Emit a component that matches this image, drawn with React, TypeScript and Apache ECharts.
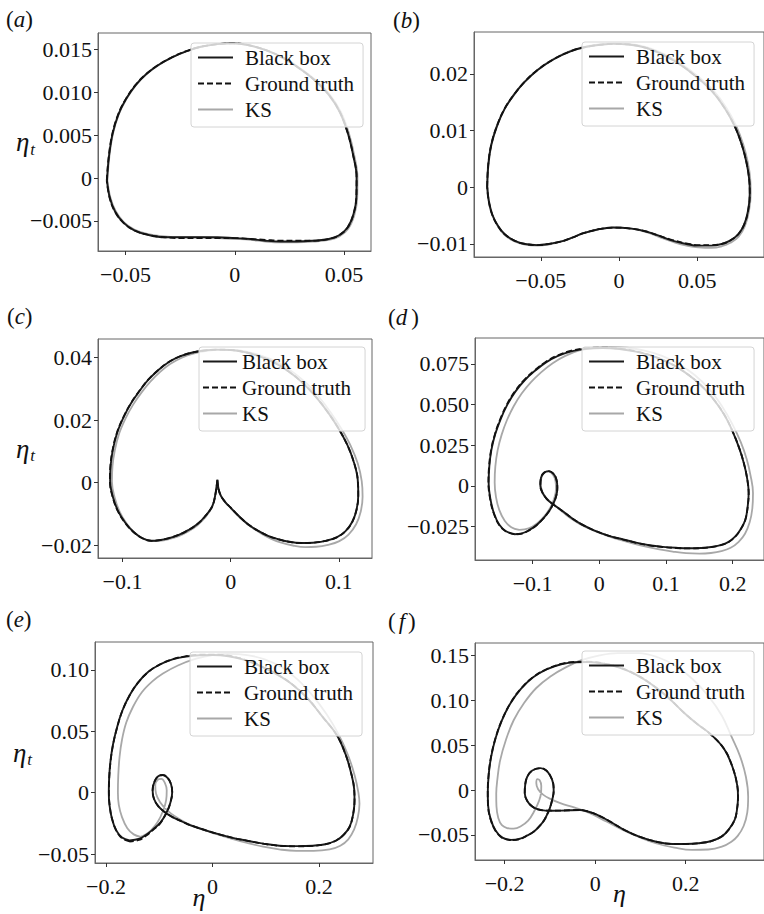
import React, { useEffect, useRef } from "react";
import * as echarts from "echarts";

type Pt = [number, number];

const SERIES_NAMES = ["Black box", "Ground truth", "KS"];
const PANEL_LETTERS = ["a", "b", "c", "d", "e", "f"];

// ---------- tick values and labels ----------
const aXTicks = [-0.05, 0, 0.05];
const aXLabels = ["−0.05", "0", "0.05"];
const aYTicks = [-0.005, 0, 0.005, 0.01, 0.015];
const aYLabels = ["−0.005", "0", "0.005", "0.010", "0.015"];
const bXTicks = [-0.05, 0, 0.05];
const bXLabels = ["−0.05", "0", "0.05"];
const bYTicks = [-0.01, 0, 0.01, 0.02];
const bYLabels = ["−0.01", "0", "0.01", "0.02"];
const cXTicks = [-0.1, 0, 0.1];
const cXLabels = ["−0.1", "0", "0.1"];
const cYTicks = [-0.02, 0, 0.02, 0.04];
const cYLabels = ["−0.02", "0", "0.02", "0.04"];
const dXTicks = [-0.1, 0, 0.1, 0.2];
const dXLabels = ["−0.1", "0", "0.1", "0.2"];
const dYTicks = [-0.025, 0, 0.025, 0.05, 0.075];
const dYLabels = ["−0.025", "0", "0.025", "0.050", "0.075"];
const eXTicks = [-0.2, 0, 0.2];
const eXLabels = ["−0.2", "0", "0.2"];
const eYTicks = [-0.05, 0, 0.05, 0.1];
const eYLabels = ["−0.05", "0", "0.05", "0.10"];
const fXTicks = [-0.2, 0, 0.2];
const fXLabels = ["−0.2", "0", "0.2"];
const fYTicks = [-0.05, 0, 0.05, 0.1, 0.15];
const fYLabels = ["−0.05", "0", "0.05", "0.10", "0.15"];

// ---------- axis ranges ----------
const aXRange = [-0.0626, 0.0623];
const aYRange = [-0.0085, 0.0169];
const bXRange = [-0.0927, 0.0927];
const bYRange = [-0.0123, 0.0274];
const cXRange = [-0.1227, 0.1307];
const cYRange = [-0.0241, 0.046];
const dXRange = [-0.1865, 0.247];
const dYRange = [-0.0457, 0.091];
const eXRange = [-0.2207, 0.3014];
const eYRange = [-0.0573, 0.1226];
const fXRange = [-0.2654, 0.373];
const fYRange = [-0.0779, 0.1642];

// ---------- panel (a) ----------
const aBlackBox: Pt[] = [
  [-0.0585, -0.0003], [-0.0576, 0.0025], [-0.0559, 0.0052], [-0.0533, 0.0074], [-0.0498, 0.0092],
  [-0.0455, 0.0108], [-0.0406, 0.0121], [-0.0348, 0.0132], [-0.0285, 0.0141], [-0.022, 0.0148],
  [-0.0155, 0.0153], [-0.008, 0.0156], [-0.001, 0.0157], [0.006, 0.0155], [0.0142, 0.0149],
  [0.022, 0.014], [0.0294, 0.0128], [0.0365, 0.0114], [0.043, 0.0097], [0.048, 0.0077],
  [0.0516, 0.0053], [0.0541, 0.0027], [0.0557, 0.0001], [0.0556, -0.0022], [0.0543, -0.0042],
  [0.0515, -0.0058], [0.0475, -0.0067], [0.043, -0.0071], [0.036, -0.0073], [0.028, -0.0074],
  [0.021, -0.0074], [0.014, -0.0073], [0.007, -0.0071], [0.0, -0.007], [-0.008, -0.0069],
  [-0.016, -0.0069], [-0.024, -0.0069], [-0.032, -0.0069], [-0.04, -0.0066], [-0.046, -0.0061],
  [-0.051, -0.0052], [-0.0548, -0.0039], [-0.0572, -0.0023], [-0.0585, -0.0003],
];
const aGroundTruth: Pt[] = [
  [-0.0586, -0.0003], [-0.0577, 0.0025], [-0.056, 0.0052], [-0.0534, 0.0074], [-0.0499, 0.0092],
  [-0.0456, 0.0108], [-0.0407, 0.0121], [-0.0349, 0.0132], [-0.0286, 0.0141], [-0.0221, 0.0148],
  [-0.0155, 0.0153], [-0.008, 0.0156], [-0.001, 0.0157], [0.006, 0.0155], [0.0142, 0.0149],
  [0.022, 0.014], [0.0294, 0.0128], [0.0365, 0.0114], [0.043, 0.0097], [0.048, 0.0077],
  [0.0516, 0.0053], [0.0541, 0.0027], [0.0557, 0.0001], [0.0556, -0.0022], [0.0543, -0.0042],
  [0.0515, -0.0058], [0.0475, -0.0067], [0.043, -0.0071], [0.036, -0.0073], [0.028, -0.0073],
  [0.021, -0.0073], [0.014, -0.0072], [0.007, -0.0071], [0.0, -0.007], [-0.008, -0.007],
  [-0.016, -0.007], [-0.024, -0.007], [-0.032, -0.0069], [-0.04, -0.0066], [-0.046, -0.0061],
  [-0.051, -0.0052], [-0.0549, -0.0039], [-0.0573, -0.0023], [-0.0586, -0.0003],
];
const aKS: Pt[] = [
  [-0.0583, -0.0003], [-0.0574, 0.0025], [-0.0557, 0.0052], [-0.0531, 0.0074], [-0.0496, 0.0092],
  [-0.0453, 0.0108], [-0.0404, 0.0121], [-0.0346, 0.0132], [-0.0283, 0.0141], [-0.0218, 0.0148],
  [-0.0153, 0.0153], [-0.0078, 0.0156], [-0.0008, 0.0157], [0.0062, 0.0155], [0.0145, 0.0149],
  [0.0224, 0.014], [0.0298, 0.0128], [0.037, 0.0114], [0.0435, 0.0097], [0.0485, 0.0077],
  [0.0521, 0.0053], [0.0546, 0.0027], [0.0561, 0.0001], [0.056, -0.0023], [0.0547, -0.0043],
  [0.0519, -0.0059], [0.0478, -0.0068], [0.0432, -0.0072], [0.0362, -0.0074], [0.0282, -0.0075],
  [0.0211, -0.0075], [0.0141, -0.0074], [0.007, -0.0072], [0.0, -0.0071], [-0.008, -0.007],
  [-0.016, -0.0069], [-0.024, -0.0069], [-0.032, -0.0068], [-0.04, -0.0065], [-0.046, -0.006],
  [-0.0509, -0.0051], [-0.0546, -0.0038], [-0.057, -0.0022], [-0.0583, -0.0003],
];

// ---------- panel (b) ----------
const bBlackBox: Pt[] = [
  [-0.0842, 0.0001], [-0.0835, 0.004], [-0.0816, 0.0075], [-0.078, 0.0108], [-0.0732, 0.0138],
  [-0.0672, 0.0163], [-0.0606, 0.0185], [-0.052, 0.0207], [-0.0417, 0.0226], [-0.031, 0.024],
  [-0.0206, 0.0248], [-0.01, 0.0252], [-0.0038, 0.0253], [0.006, 0.0252], [0.0173, 0.0246],
  [0.028, 0.0234], [0.0383, 0.0218], [0.049, 0.0196], [0.0593, 0.017], [0.0675, 0.014],
  [0.0741, 0.0107], [0.0785, 0.0075], [0.0814, 0.0045], [0.0832, 0.0015], [0.0836, -0.001],
  [0.0826, -0.004], [0.08, -0.0066], [0.0762, -0.0083], [0.071, -0.0094], [0.0657, -0.01],
  [0.059, -0.0103], [0.0509, -0.0103], [0.043, -0.01], [0.0341, -0.0094], [0.025, -0.0085],
  [0.0173, -0.0078], [0.008, -0.0073], [-0.0038, -0.0071], [-0.013, -0.0074], [-0.0227, -0.0081],
  [-0.03, -0.0089], [-0.0374, -0.0096], [-0.045, -0.01], [-0.0521, -0.0102], [-0.06, -0.01],
  [-0.0669, -0.0094], [-0.073, -0.0083], [-0.0774, -0.0068], [-0.081, -0.0048], [-0.0832, -0.0024],
  [-0.0842, 0.0001],
];
const bGroundTruth: Pt[] = [
  [-0.0843, 0.0001], [-0.0836, 0.004], [-0.0817, 0.0075], [-0.0781, 0.0108], [-0.0733, 0.0138],
  [-0.0673, 0.0163], [-0.0607, 0.0185], [-0.0521, 0.0207], [-0.0418, 0.0226], [-0.031, 0.024],
  [-0.0206, 0.0248], [-0.01, 0.0252], [-0.0038, 0.0253], [0.006, 0.0252], [0.0173, 0.0246],
  [0.028, 0.0234], [0.0383, 0.0218], [0.049, 0.0196], [0.0593, 0.017], [0.0675, 0.014],
  [0.0741, 0.0107], [0.0785, 0.0075], [0.0814, 0.0045], [0.0832, 0.0015], [0.0836, -0.001],
  [0.0826, -0.004], [0.08, -0.0066], [0.0762, -0.0083], [0.071, -0.0094], [0.0657, -0.01],
  [0.059, -0.0102], [0.0509, -0.0102], [0.043, -0.0099], [0.0341, -0.0093], [0.025, -0.0085],
  [0.0173, -0.0078], [0.008, -0.0073], [-0.0038, -0.0071], [-0.013, -0.0074], [-0.0227, -0.0081],
  [-0.03, -0.0089], [-0.0374, -0.0096], [-0.045, -0.01], [-0.0521, -0.0102], [-0.06, -0.01],
  [-0.0669, -0.0094], [-0.073, -0.0083], [-0.0775, -0.0068], [-0.0811, -0.0048], [-0.0833, -0.0024],
  [-0.0843, 0.0001],
];
const bKS: Pt[] = [
  [-0.0844, 0.0001], [-0.0837, 0.004], [-0.0818, 0.0075], [-0.0782, 0.0108], [-0.0733, 0.0138],
  [-0.0672, 0.0164], [-0.0605, 0.0186], [-0.0518, 0.0208], [-0.0414, 0.0227], [-0.0306, 0.0241],
  [-0.0202, 0.0249], [-0.0096, 0.0253], [-0.0033, 0.0254], [0.0066, 0.0253], [0.018, 0.0247],
  [0.0288, 0.0235], [0.0392, 0.0219], [0.05, 0.0197], [0.0603, 0.0171], [0.0685, 0.0141],
  [0.075, 0.0108], [0.0794, 0.0076], [0.0822, 0.0046], [0.0839, 0.0015], [0.0842, -0.0011],
  [0.0831, -0.0042], [0.0804, -0.0069], [0.0765, -0.0087], [0.0712, -0.0098], [0.0658, -0.0104],
  [0.0591, -0.0107], [0.051, -0.0106], [0.0431, -0.0103], [0.0342, -0.0096], [0.0251, -0.0087],
  [0.0174, -0.0079], [0.008, -0.0073], [-0.0038, -0.0071], [-0.013, -0.0074], [-0.0227, -0.0081],
  [-0.03, -0.0089], [-0.0374, -0.0096], [-0.045, -0.0101], [-0.0522, -0.0103], [-0.0601, -0.0101],
  [-0.0671, -0.0095], [-0.0732, -0.0084], [-0.0776, -0.0068], [-0.0812, -0.0048], [-0.0834, -0.0024],
  [-0.0844, 0.0001],
];

// ---------- panel (c) ----------
const cBlackBox: Pt[] = [
  [-0.0123, 0.0009], [-0.014, -0.0035], [-0.017, -0.0075], [-0.024, -0.0109], [-0.031, -0.0133],
  [-0.0393, -0.0152], [-0.048, -0.0167], [-0.0578, -0.0178], [-0.066, -0.0184], [-0.0732, -0.0186],
  [-0.082, -0.0177], [-0.09, -0.0157], [-0.0975, -0.0128], [-0.104, -0.0092], [-0.109, -0.0045],
  [-0.1115, 0.0005], [-0.111, 0.0055], [-0.109, 0.0105], [-0.105, 0.016], [-0.099, 0.021],
  [-0.092, 0.0255], [-0.084, 0.0295], [-0.0763, 0.0329], [-0.067, 0.036], [-0.0578, 0.0385],
  [-0.047, 0.0404], [-0.0363, 0.0416], [-0.025, 0.0423], [-0.013, 0.0426], [0.0, 0.0425],
  [0.013, 0.0418], [0.026, 0.0405], [0.04, 0.0385], [0.054, 0.0355], [0.067, 0.0318],
  [0.079, 0.0274], [0.09, 0.0225], [0.1, 0.0172], [0.108, 0.012], [0.114, 0.0065],
  [0.1175, 0.001], [0.118, -0.004], [0.1165, -0.0085], [0.1125, -0.0125], [0.106, -0.0156],
  [0.098, -0.0175], [0.088, -0.0186], [0.076, -0.0192], [0.0653, -0.0193], [0.054, -0.0189],
  [0.043, -0.018], [0.0345, -0.017], [0.026, -0.0155], [0.018, -0.0138], [0.011, -0.0118],
  [0.005, -0.0098], [0.0, -0.008], [-0.005, -0.0062], [-0.009, -0.0042], [-0.0112, -0.002],
  [-0.0123, 0.0009],
];
const cGroundTruth: Pt[] = [
  [-0.0123, 0.0009], [-0.014, -0.0035], [-0.017, -0.0075], [-0.024, -0.0109], [-0.031, -0.0133],
  [-0.0393, -0.0152], [-0.048, -0.0167], [-0.0578, -0.0178], [-0.066, -0.0184], [-0.0732, -0.0186],
  [-0.0822, -0.0177], [-0.0902, -0.0157], [-0.0977, -0.0128], [-0.1042, -0.0092], [-0.1092, -0.0045],
  [-0.1117, 0.0005], [-0.1112, 0.0055], [-0.1092, 0.0105], [-0.1052, 0.016], [-0.0992, 0.021],
  [-0.0922, 0.0255], [-0.0842, 0.0295], [-0.0765, 0.0329], [-0.0672, 0.036], [-0.058, 0.0385],
  [-0.0472, 0.0404], [-0.0364, 0.0416], [-0.025, 0.0423], [-0.013, 0.0426], [0.0, 0.0425],
  [0.013, 0.0418], [0.026, 0.0405], [0.04, 0.0385], [0.054, 0.0355], [0.067, 0.0318],
  [0.079, 0.0274], [0.09, 0.0225], [0.1, 0.0172], [0.108, 0.012], [0.114, 0.0065],
  [0.1175, 0.001], [0.118, -0.004], [0.1165, -0.0085], [0.1125, -0.0125], [0.106, -0.0156],
  [0.098, -0.0175], [0.088, -0.0186], [0.076, -0.0192], [0.0653, -0.0193], [0.054, -0.0189],
  [0.043, -0.018], [0.0345, -0.017], [0.026, -0.0155], [0.018, -0.0138], [0.011, -0.0118],
  [0.005, -0.0098], [0.0, -0.008], [-0.005, -0.0062], [-0.009, -0.0042], [-0.0112, -0.002],
  [-0.0123, 0.0009],
];
const cKS: Pt[] = [
  [-0.0125, 0.0005], [-0.0142, -0.0038], [-0.0172, -0.0078], [-0.024, -0.0113], [-0.031, -0.0137],
  [-0.0393, -0.0156], [-0.048, -0.0171], [-0.0578, -0.0181], [-0.066, -0.0186], [-0.0725, -0.0187],
  [-0.081, -0.0179], [-0.089, -0.016], [-0.0962, -0.0131], [-0.1025, -0.0094], [-0.1073, -0.0047],
  [-0.1098, 0.0003], [-0.1093, 0.0053], [-0.1072, 0.0103], [-0.1032, 0.0157], [-0.0972, 0.0206],
  [-0.0902, 0.025], [-0.0822, 0.029], [-0.0745, 0.0323], [-0.0652, 0.0355], [-0.056, 0.038],
  [-0.0452, 0.04], [-0.0345, 0.0413], [-0.0232, 0.0421], [-0.011, 0.0425], [0.002, 0.0425],
  [0.015, 0.0419], [0.028, 0.0407], [0.042, 0.0388], [0.056, 0.0358], [0.0695, 0.032],
  [0.0815, 0.0275], [0.0925, 0.0225], [0.1025, 0.0172], [0.111, 0.0118], [0.1175, 0.0062],
  [0.1212, 0.0005], [0.122, -0.0045], [0.1203, -0.0092], [0.116, -0.0133], [0.109, -0.0166],
  [0.1005, -0.0187], [0.09, -0.0199], [0.079, -0.0205], [0.069, -0.0206], [0.0575, -0.0201],
  [0.046, -0.0191], [0.0365, -0.0178], [0.0275, -0.0161], [0.019, -0.0142], [0.0115, -0.0121],
  [0.0052, -0.01], [0.0, -0.0081], [-0.0052, -0.0062], [-0.0092, -0.0042], [-0.0115, -0.002],
  [-0.0125, 0.0005],
];

// ---------- panel (d) ----------
const dBlackBox: Pt[] = [
  [-0.127, -0.0298], [-0.14, -0.028], [-0.15, -0.024], [-0.158, -0.017], [-0.163, -0.009],
  [-0.166, 0.002], [-0.165, 0.012], [-0.162, 0.022], [-0.156, 0.032], [-0.148, 0.0411],
  [-0.138, 0.05], [-0.126, 0.058], [-0.112, 0.065], [-0.096, 0.071], [-0.08, 0.076],
  [-0.062, 0.08], [-0.042, 0.0828], [-0.02, 0.0843], [0.005, 0.0848], [0.03, 0.0842],
  [0.055, 0.0826], [0.08, 0.0798], [0.105, 0.0756], [0.128, 0.07], [0.15, 0.0628],
  [0.17, 0.054], [0.187, 0.044], [0.2, 0.0334], [0.21, 0.023], [0.2167, 0.014],
  [0.2215, 0.005], [0.224, -0.0045], [0.2225, -0.013], [0.219, -0.0209], [0.212, -0.0268],
  [0.204, -0.0312], [0.194, -0.0345], [0.182, -0.0365], [0.168, -0.0377], [0.1526, -0.0383],
  [0.135, -0.0385], [0.115, -0.0382], [0.095, -0.0376], [0.075, -0.0366], [0.055, -0.035],
  [0.035, -0.033], [0.0123, -0.0305], [-0.008, -0.0274], [-0.0271, -0.0236], [-0.04, -0.0203],
  [-0.0519, -0.0166], [-0.062, -0.0135], [-0.0707, -0.011], [-0.079, -0.008], [-0.085, -0.0045],
  [-0.0885, 0.0], [-0.0875, 0.005], [-0.083, 0.008], [-0.076, 0.009], [-0.069, 0.0075],
  [-0.0645, 0.004], [-0.063, -0.001], [-0.0645, -0.006], [-0.069, -0.011], [-0.076, -0.016],
  [-0.085, -0.0205], [-0.095, -0.0245], [-0.106, -0.0275], [-0.116, -0.0293], [-0.127, -0.0298],
];
const dGroundTruth: Pt[] = [
  [-0.127, -0.0299], [-0.1402, -0.0281], [-0.1503, -0.0241], [-0.1583, -0.0171], [-0.1634, -0.009],
  [-0.1664, 0.002], [-0.1654, 0.012], [-0.1624, 0.022], [-0.1564, 0.0321], [-0.1484, 0.0413],
  [-0.1384, 0.0503], [-0.1263, 0.0584], [-0.1122, 0.0654], [-0.0962, 0.0714], [-0.0801, 0.0764],
  [-0.062, 0.0804], [-0.042, 0.0832], [-0.02, 0.0847], [0.005, 0.0851], [0.03, 0.0845],
  [0.055, 0.0828], [0.08, 0.0799], [0.105, 0.0757], [0.128, 0.07], [0.15, 0.0628],
  [0.17, 0.054], [0.187, 0.044], [0.2, 0.0334], [0.21, 0.023], [0.2167, 0.014],
  [0.2215, 0.005], [0.224, -0.0045], [0.2225, -0.013], [0.219, -0.0209], [0.212, -0.0268],
  [0.204, -0.0313], [0.194, -0.0346], [0.182, -0.0366], [0.168, -0.0378], [0.1526, -0.0384],
  [0.135, -0.0386], [0.115, -0.0383], [0.095, -0.0377], [0.075, -0.0367], [0.055, -0.0351],
  [0.035, -0.033], [0.0123, -0.0305], [-0.008, -0.0274], [-0.0271, -0.0236], [-0.04, -0.0203],
  [-0.0519, -0.0166], [-0.062, -0.0135], [-0.0707, -0.011], [-0.079, -0.008], [-0.085, -0.0045],
  [-0.0885, 0.0], [-0.0875, 0.005], [-0.083, 0.008], [-0.076, 0.009], [-0.069, 0.0075],
  [-0.0645, 0.004], [-0.063, -0.001], [-0.0645, -0.006], [-0.069, -0.011], [-0.076, -0.016],
  [-0.085, -0.0206], [-0.095, -0.0246], [-0.106, -0.0276], [-0.116, -0.0294], [-0.127, -0.0299],
];
const dKS: Pt[] = [
  [-0.12, -0.0272], [-0.132, -0.0255], [-0.142, -0.0215], [-0.15, -0.015], [-0.155, -0.007],
  [-0.157, 0.002], [-0.156, 0.012], [-0.1525, 0.022], [-0.1465, 0.0315], [-0.1385, 0.0405],
  [-0.1285, 0.049], [-0.1165, 0.0568], [-0.1025, 0.0638], [-0.087, 0.07], [-0.07, 0.0755],
  [-0.051, 0.08], [-0.03, 0.0833], [-0.007, 0.085], [0.017, 0.0855], [0.042, 0.085],
  [0.068, 0.0832], [0.094, 0.08], [0.119, 0.075], [0.143, 0.0682], [0.165, 0.0595],
  [0.184, 0.049], [0.1995, 0.038], [0.212, 0.027], [0.221, 0.0165], [0.227, 0.006],
  [0.2305, -0.0045], [0.2295, -0.014], [0.2255, -0.0225], [0.2185, -0.0295], [0.209, -0.0345],
  [0.197, -0.0382], [0.183, -0.0403], [0.1674, -0.0414], [0.15, -0.0418], [0.13, -0.0415],
  [0.11, -0.0405], [0.09, -0.0392], [0.07, -0.0375], [0.05, -0.0355], [0.03, -0.0332],
  [0.01, -0.0305], [-0.01, -0.0274], [-0.029, -0.0236], [-0.042, -0.0203], [-0.0535, -0.0167],
  [-0.0635, -0.0133], [-0.072, -0.0104], [-0.08, -0.0072], [-0.0855, -0.0035], [-0.088, 0.001],
  [-0.0865, 0.0055], [-0.0818, 0.0082], [-0.0755, 0.0088], [-0.0695, 0.0068], [-0.0658, 0.003],
  [-0.065, -0.002], [-0.0675, -0.0075], [-0.073, -0.013], [-0.082, -0.0185], [-0.093, -0.023],
  [-0.106, -0.0262], [-0.12, -0.0272],
];

// ---------- panel (e) ----------
const eBlackBox: Pt[] = [
  [-0.1559, -0.039], [-0.17, -0.0365], [-0.1808, -0.0307], [-0.189, -0.021], [-0.1935, -0.01],
  [-0.1948, 0.0], [-0.194, 0.013], [-0.1915, 0.026], [-0.187, 0.039], [-0.18, 0.052],
  [-0.17, 0.066], [-0.156, 0.079], [-0.14, 0.0895], [-0.12, 0.0985], [-0.098, 0.1045],
  [-0.075, 0.1085], [-0.0494, 0.1108], [-0.025, 0.1118], [0.0, 0.112], [0.03, 0.111],
  [0.06, 0.108], [0.09, 0.103], [0.12, 0.0965], [0.15, 0.088], [0.18, 0.076],
  [0.206, 0.062], [0.233, 0.047], [0.25, 0.031], [0.2605, 0.0155], [0.266, 0.003],
  [0.2667, -0.0063], [0.264, -0.018], [0.2573, -0.028], [0.246, -0.0345], [0.2323, -0.039],
  [0.212, -0.042], [0.1885, -0.0432], [0.16, -0.0436], [0.1258, -0.0432], [0.095, -0.0415],
  [0.0633, -0.039], [0.04, -0.037], [0.0195, -0.0348], [-0.005, -0.0318], [-0.0306, -0.0282],
  [-0.048, -0.0254], [-0.062, -0.0226], [-0.077, -0.0195], [-0.0901, -0.0158], [-0.102, -0.011],
  [-0.11, -0.005], [-0.1125, 0.002], [-0.109, 0.009], [-0.102, 0.0133], [-0.0931, 0.0143],
  [-0.084, 0.0118], [-0.078, 0.007], [-0.0757, 0.0005], [-0.079, -0.008], [-0.086, -0.016],
  [-0.098, -0.0245], [-0.1119, -0.03], [-0.125, -0.0345], [-0.1371, -0.0375], [-0.1559, -0.039],
];
const eGroundTruth: Pt[] = [
  [-0.1545, -0.0398], [-0.169, -0.0375], [-0.18, -0.0315], [-0.1885, -0.0215], [-0.1932, -0.0102],
  [-0.1946, 0.0], [-0.1938, 0.013], [-0.1913, 0.026], [-0.1868, 0.039], [-0.1798, 0.052],
  [-0.1698, 0.066], [-0.1558, 0.079], [-0.1398, 0.0895], [-0.1198, 0.0985], [-0.0978, 0.1045],
  [-0.0748, 0.1087], [-0.0492, 0.1111], [-0.0248, 0.1122], [0.0, 0.1124], [0.03, 0.1114],
  [0.06, 0.1083], [0.09, 0.1032], [0.12, 0.0966], [0.15, 0.088], [0.18, 0.076],
  [0.206, 0.062], [0.233, 0.047], [0.25, 0.031], [0.2605, 0.0155], [0.266, 0.003],
  [0.2667, -0.0063], [0.264, -0.018], [0.2573, -0.028], [0.246, -0.0345], [0.2323, -0.039],
  [0.212, -0.042], [0.1885, -0.0433], [0.16, -0.0437], [0.1258, -0.0433], [0.095, -0.0416],
  [0.0633, -0.039], [0.04, -0.037], [0.0195, -0.0348], [-0.005, -0.0318], [-0.0306, -0.0282],
  [-0.048, -0.0254], [-0.062, -0.0226], [-0.077, -0.0195], [-0.0901, -0.0158], [-0.102, -0.011],
  [-0.11, -0.005], [-0.1125, 0.002], [-0.109, 0.009], [-0.102, 0.0133], [-0.0931, 0.0143],
  [-0.084, 0.0118], [-0.078, 0.007], [-0.0757, 0.0005], [-0.079, -0.008], [-0.086, -0.016],
  [-0.098, -0.0248], [-0.1119, -0.0305], [-0.125, -0.0352], [-0.138, -0.0385], [-0.1545, -0.0398],
];
const eKS: Pt[] = [
  [-0.135, -0.036], [-0.148, -0.034], [-0.16, -0.029], [-0.17, -0.02], [-0.176, -0.01],
  [-0.1777, 0.0], [-0.177, 0.014], [-0.1746, 0.029], [-0.17, 0.043], [-0.162, 0.057],
  [-0.1495, 0.0697], [-0.133, 0.0815], [-0.113, 0.0905], [-0.0931, 0.0969], [-0.065, 0.1035],
  [-0.0306, 0.109], [0.0, 0.112], [0.032, 0.113], [0.065, 0.112], [0.098, 0.1085],
  [0.13, 0.102], [0.16, 0.092], [0.188, 0.079], [0.214, 0.064], [0.236, 0.048],
  [0.254, 0.031], [0.267, 0.014], [0.274, 0.0], [0.276, -0.009], [0.273, -0.02],
  [0.266, -0.03], [0.255, -0.038], [0.24, -0.0432], [0.22, -0.0462], [0.19, -0.0474],
  [0.1572, -0.0474], [0.125, -0.0462], [0.095, -0.044], [0.065, -0.041], [0.035, -0.0375],
  [0.005, -0.0335], [-0.025, -0.029], [-0.05, -0.0245], [-0.07, -0.0195], [-0.086, -0.014],
  [-0.098, -0.008], [-0.106, -0.001], [-0.1075, 0.006], [-0.103, 0.0105], [-0.096, 0.0112],
  [-0.0895, 0.008], [-0.086, 0.002], [-0.087, -0.006], [-0.093, -0.015], [-0.103, -0.024],
  [-0.115, -0.0305], [-0.125, -0.034], [-0.135, -0.036],
];

// ---------- panel (f) ----------
const fBlackBox: Pt[] = [
  [-0.186, -0.0555], [-0.205, -0.053], [-0.22, -0.045], [-0.231, -0.032], [-0.2365, -0.017],
  [-0.2371, -0.002], [-0.235, 0.018], [-0.2297, 0.0375], [-0.22, 0.058], [-0.206, 0.078],
  [-0.187, 0.097], [-0.164, 0.113], [-0.137, 0.126], [-0.1062, 0.135], [-0.075, 0.1405],
  [-0.045, 0.1428], [-0.015, 0.143], [0.02, 0.141], [0.055, 0.1365], [0.09, 0.129],
  [0.125, 0.118], [0.16, 0.104], [0.195, 0.087], [0.225, 0.074], [0.2537, 0.063],
  [0.285, 0.046], [0.304, 0.025], [0.314, 0.005], [0.3156, -0.008], [0.313, -0.023],
  [0.3082, -0.0332], [0.295, -0.044], [0.2792, -0.0518], [0.255, -0.057], [0.2283, -0.0592],
  [0.2, -0.06], [0.1701, -0.06], [0.135, -0.0575], [0.0975, -0.0518], [0.065, -0.0445],
  [0.0393, -0.0369], [0.015, -0.03], [-0.0044, -0.0257], [-0.02, -0.0232], [-0.0334, -0.0222],
  [-0.055, -0.0224], [-0.077, -0.0228], [-0.095, -0.0229], [-0.1097, -0.0228], [-0.126, -0.0215],
  [-0.1389, -0.0183], [-0.15, -0.012], [-0.1555, -0.0034], [-0.1545, 0.006], [-0.15, 0.015],
  [-0.1389, 0.0219], [-0.1206, 0.0246], [-0.108, 0.022], [-0.099, 0.016], [-0.0925, 0.007],
  [-0.0916, -0.001], [-0.095, -0.011], [-0.1, -0.02], [-0.1047, -0.0257], [-0.112, -0.033],
  [-0.1206, -0.0388], [-0.135, -0.046], [-0.1498, -0.0505], [-0.168, -0.0545], [-0.186, -0.0555],
];
const fGroundTruth: Pt[] = [
  [-0.186, -0.0557], [-0.2052, -0.0532], [-0.2202, -0.0452], [-0.2312, -0.0321], [-0.2367, -0.017],
  [-0.2373, -0.002], [-0.2352, 0.018], [-0.2299, 0.0375], [-0.2202, 0.058], [-0.2062, 0.078],
  [-0.1872, 0.0972], [-0.1642, 0.1132], [-0.1372, 0.1262], [-0.1062, 0.1352], [-0.075, 0.1408],
  [-0.045, 0.1431], [-0.015, 0.1433], [0.02, 0.1413], [0.055, 0.1367], [0.09, 0.1291],
  [0.125, 0.118], [0.16, 0.104], [0.195, 0.087], [0.225, 0.074], [0.2537, 0.063],
  [0.285, 0.046], [0.304, 0.025], [0.314, 0.005], [0.3156, -0.008], [0.313, -0.023],
  [0.3082, -0.0332], [0.295, -0.044], [0.2792, -0.0518], [0.255, -0.057], [0.2283, -0.0592],
  [0.2, -0.06], [0.1701, -0.06], [0.135, -0.0575], [0.0975, -0.0518], [0.065, -0.0445],
  [0.0393, -0.0369], [0.015, -0.03], [-0.0044, -0.0257], [-0.02, -0.0232], [-0.0334, -0.0222],
  [-0.055, -0.0224], [-0.077, -0.0228], [-0.095, -0.0229], [-0.1097, -0.0228], [-0.126, -0.0215],
  [-0.1389, -0.0183], [-0.15, -0.012], [-0.1555, -0.0034], [-0.1545, 0.006], [-0.15, 0.015],
  [-0.1389, 0.0219], [-0.1206, 0.0246], [-0.108, 0.022], [-0.099, 0.016], [-0.0925, 0.007],
  [-0.0916, -0.001], [-0.095, -0.011], [-0.1, -0.02], [-0.1047, -0.0257], [-0.112, -0.033],
  [-0.1206, -0.0388], [-0.135, -0.046], [-0.1498, -0.0506], [-0.168, -0.0547], [-0.186, -0.0557],
];
const fKS: Pt[] = [
  [-0.1935, -0.0425], [-0.206, -0.039], [-0.214, -0.031], [-0.218, -0.018], [-0.2185, -0.004],
  [-0.216, 0.012], [-0.21, 0.033], [-0.197, 0.0562], [-0.18, 0.078], [-0.157, 0.0972],
  [-0.13, 0.114], [-0.0988, 0.1269], [-0.065, 0.137], [-0.03, 0.145], [0.01, 0.1505],
  [0.05, 0.153], [0.096, 0.153], [0.14, 0.148], [0.18, 0.138], [0.215, 0.124],
  [0.25, 0.105], [0.28, 0.083], [0.301, 0.06], [0.32, 0.038], [0.333, 0.015],
  [0.338, -0.0072], [0.336, -0.025], [0.328, -0.04], [0.315, -0.051], [0.301, -0.0575],
  [0.28, -0.063], [0.25, -0.0662], [0.2137, -0.0667], [0.175, -0.064], [0.1337, -0.0592],
  [0.095, -0.052], [0.0611, -0.0444], [0.025, -0.035], [-0.0116, -0.0257], [-0.045, -0.0195],
  [-0.077, -0.0145], [-0.098, -0.01], [-0.115, -0.005], [-0.126, 0.001], [-0.13, 0.008],
  [-0.1275, 0.0123], [-0.1225, 0.011], [-0.119, 0.005], [-0.1195, -0.003], [-0.124, -0.012],
  [-0.134, -0.023], [-0.148, -0.034], [-0.165, -0.0405], [-0.18, -0.0428], [-0.1935, -0.0425],
];

// ---------- layout (pixels) ----------
const GRID_RECTS = [
  { left: 98, top: 33, width: 273, height: 218 },
  { left: 474, top: 32, width: 294, height: 225 },
  { left: 98, top: 339, width: 274, height: 219 },
  { left: 475, top: 338, width: 293, height: 222 },
  { left: 95, top: 642, width: 278, height: 221 },
  { left: 475, top: 643, width: 293, height: 217 },
];
const LEGEND_POS = [
  { left: 191, top: 43 },
  { left: 582, top: 42 },
  { left: 199, top: 347 },
  { left: 582, top: 347 },
  { left: 190, top: 652 },
  { left: 582, top: 651 },
];
const TITLE_POS = [
  { left: 6, top: 8 },
  { left: 393, top: 9 },
  { left: 7, top: 305 },
  { left: 388, top: 306 },
  { left: 6, top: 608 },
  { left: 388, top: 610 },
];
const X_NAME_GAP = [0, 0, 0, 0, 21, 20];
const X_NAME_PAD = [
  [0, 0, 0, 0], [0, 0, 0, 0], [0, 0, 0, 0], [0, 0, 0, 0], [0, 70, 0, 0], [0, 0, 0, 0],
];

const FONT = "Liberation Serif";
const INK = "#111111";
const AXIS_GRAY = "#666666";

const panels = [
  { x: aXRange, y: aYRange, xt: aXTicks, xl: aXLabels, yt: aYTicks, yl: aYLabels, bb: aBlackBox, gt: aGroundTruth, ks: aKS, yName: true, xName: false },
  { x: bXRange, y: bYRange, xt: bXTicks, xl: bXLabels, yt: bYTicks, yl: bYLabels, bb: bBlackBox, gt: bGroundTruth, ks: bKS, yName: false, xName: false },
  { x: cXRange, y: cYRange, xt: cXTicks, xl: cXLabels, yt: cYTicks, yl: cYLabels, bb: cBlackBox, gt: cGroundTruth, ks: cKS, yName: true, xName: false },
  { x: dXRange, y: dYRange, xt: dXTicks, xl: dXLabels, yt: dYTicks, yl: dYLabels, bb: dBlackBox, gt: dGroundTruth, ks: dKS, yName: false, xName: false },
  { x: eXRange, y: eYRange, xt: eXTicks, xl: eXLabels, yt: eYTicks, yl: eYLabels, bb: eBlackBox, gt: eGroundTruth, ks: eKS, yName: true, xName: true },
  { x: fXRange, y: fYRange, xt: fXTicks, xl: fXLabels, yt: fYTicks, yl: fYLabels, bb: fBlackBox, gt: fGroundTruth, ks: fKS, yName: false, xName: true },
];

function labelFor(ticks: number[], labels: string[]) {
  return (v: number) => {
    let best = 0;
    for (let i = 1; i < ticks.length; i++) {
      if (Math.abs(ticks[i] - v) < Math.abs(ticks[best] - v)) best = i;
    }
    return labels[best];
  };
}

function buildOption() {
  const grid: any[] = [];
  const xAxis: any[] = [];
  const yAxis: any[] = [];
  const series: any[] = [];
  const legend: any[] = [];
  const title: any[] = [];

  panels.forEach((p, i) => {
    grid.push({
      ...GRID_RECTS[i],
      show: true,
      borderColor: AXIS_GRAY,
      borderWidth: 1,
      backgroundColor: "transparent",
      containLabel: false,
    });
    xAxis.push({
      type: "value",
      gridIndex: i,
      min: p.x[0],
      max: p.x[1],
      axisLine: { show: true, onZero: false, lineStyle: { color: AXIS_GRAY, width: 1 } },
      axisTick: { show: true, length: 4, inside: false, customValues: p.xt, lineStyle: { color: "#333" } },
      axisLabel: {
        customValues: p.xt,
        formatter: labelFor(p.xt, p.xl),
        fontFamily: FONT,
        fontSize: 22,
        color: INK,
        margin: 12,
      },
      splitLine: { show: false },
      name: p.xName ? "{e|η}" : "",
      nameLocation: "middle",
      nameGap: X_NAME_GAP[i],
      nameMoveOverlap: false,
      nameTextStyle: {
        padding: X_NAME_PAD[i],
        rich: { e: { fontFamily: FONT, fontStyle: "italic", fontWeight: "normal", fontSize: 26, color: INK } },
      },
    });
    yAxis.push({
      type: "value",
      gridIndex: i,
      min: p.y[0],
      max: p.y[1],
      axisLine: { show: true, onZero: false, lineStyle: { color: AXIS_GRAY, width: 1 } },
      axisTick: { show: true, length: 4, inside: false, customValues: p.yt, lineStyle: { color: "#333" } },
      axisLabel: {
        customValues: p.yt,
        formatter: labelFor(p.yt, p.yl),
        fontFamily: FONT,
        fontSize: 22,
        color: INK,
        margin: 6,
      },
      splitLine: { show: false },
      name: p.yName ? "{e|η}{s|t}" : "",
      nameLocation: "middle",
      nameRotate: 0,
      nameGap: 63,
      nameMoveOverlap: false,
      nameTextStyle: {
        rich: {
          e: { fontFamily: FONT, fontStyle: "italic", fontWeight: "normal", fontSize: 27, color: INK },
          s: { fontFamily: FONT, fontStyle: "italic", fontWeight: "normal", fontSize: 17, color: INK, padding: [14, 0, 0, 1] },
        },
      },
    });
    series.push(
      {
        name: "KS",
        type: "line",
        xAxisIndex: i,
        yAxisIndex: i,
        data: p.ks,
        smooth: 0.4,
        symbol: "none",
        z: 2,
        itemStyle: { color: "#a8a8a8", opacity: 0 },
        lineStyle: { color: "#a8a8a8", width: 1.8 },
        silent: true,
      },
      {
        name: "Black box",
        type: "line",
        xAxisIndex: i,
        yAxisIndex: i,
        data: p.bb,
        smooth: 0.4,
        symbol: "none",
        z: 3,
        itemStyle: { color: "#1a1a1a", opacity: 0 },
        lineStyle: { color: "#1a1a1a", width: 1.9 },
        silent: true,
      },
      {
        name: "Ground truth",
        type: "line",
        xAxisIndex: i,
        yAxisIndex: i,
        data: p.gt,
        smooth: 0.4,
        symbol: "none",
        z: 4,
        itemStyle: { color: "#111111", opacity: 0 },
        lineStyle: { color: "#111111", width: 1.8, type: [6, 3] },
        silent: true,
      }
    );
    const isC = i === 2;
    legend.push({
      data: SERIES_NAMES,
      orient: "vertical",
      ...LEGEND_POS[i],
      z: 10,
      itemWidth: isC ? 34 : 35,
      itemHeight: 14,
      itemGap: 5,
      padding: isC ? [4, 14, 7, 3] : [4, 9, 7, 6],
      backgroundColor: "rgba(255,255,255,0.8)",
      borderColor: "#d4d4d4",
      borderWidth: 1,
      borderRadius: 3,
      selectedMode: false,
      itemStyle: { opacity: 0 },
      lineStyle: { width: 2 },
      textStyle: {
        fontFamily: FONT,
        fontSize: 21,
        fontWeight: "normal",
        color: INK,
        lineHeight: 20,
        padding: isC ? [0, 0, 0, 0] : [0, 0, 0, 7],
      },
    });
    const letterPad = PANEL_LETTERS[i] === "f" ? [0, 3, 0, 3] : PANEL_LETTERS[i] === "d" ? [0, 4, 0, 0] : [0, 0, 0, 0];
    title.push({
      text: "{p|(}{i|" + PANEL_LETTERS[i] + "}{p|)}",
      ...TITLE_POS[i],
      padding: 0,
      textStyle: {
        fontWeight: "normal",
        fontFamily: FONT,
        rich: {
          p: { fontFamily: FONT, fontWeight: "normal", fontSize: 23, color: INK },
          i: { fontFamily: FONT, fontStyle: "italic", fontWeight: "normal", fontSize: 23, color: INK, padding: letterPad },
        },
      },
    });
  });

  return {
    animation: false,
    backgroundColor: "#ffffff",
    textStyle: { fontFamily: FONT },
    grid,
    xAxis,
    yAxis,
    series,
    legend,
    title,
  };
}

export default function App() {
  const ref = useRef<HTMLDivElement>(null);
  useEffect(() => {
    if (!ref.current) return;
    const chart = echarts.init(ref.current, undefined, { renderer: "svg" });
    chart.setOption(buildOption() as any);
    return () => chart.dispose();
  }, []);
  return (
    <div
      ref={ref}
      style={{ position: "absolute", left: 0, top: 0, width: 764, height: 914, background: "#fff" }}
    />
  );
}
